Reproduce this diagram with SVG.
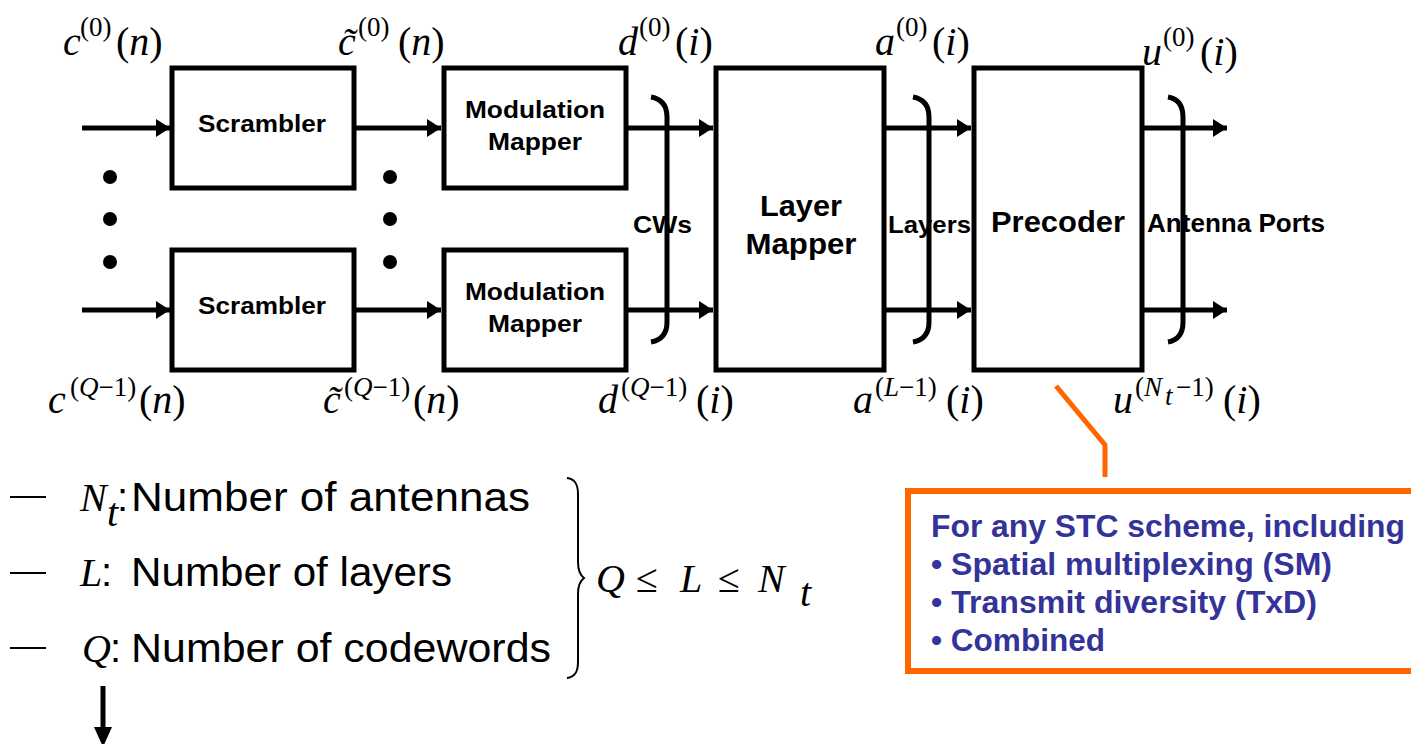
<svg xmlns="http://www.w3.org/2000/svg" width="1411" height="744" viewBox="0 0 1411 744">
<defs>
<style>
.box{fill:#fff;stroke:#000;stroke-width:5}
.ln{stroke:#000;stroke-width:5;fill:none}
.br{stroke:#000;stroke-width:5;fill:none;stroke-linecap:butt}
.lbl{font-family:"Liberation Sans",Arial,sans-serif;font-weight:bold;fill:#000}
.mi{font-family:"Liberation Serif","Times New Roman",serif;font-style:italic;font-size:40px;fill:#000}
.mr{font-family:"Liberation Serif","Times New Roman",serif;font-size:40px;fill:#000}
.si{font-family:"Liberation Serif","Times New Roman",serif;font-style:italic;font-size:27px;fill:#000}
.sr{font-family:"Liberation Serif","Times New Roman",serif;font-size:27px;fill:#000}
.leg{font-family:"Liberation Sans",Arial,sans-serif;font-size:40px;fill:#000}
.org{font-family:"Liberation Sans",Arial,sans-serif;font-weight:bold;font-size:31px;fill:#333399}
</style>
<marker id="ah" markerUnits="userSpaceOnUse" markerWidth="14" markerHeight="18" refX="14" refY="9" orient="auto">
<path d="M0,0 L14,9 L0,18 z" fill="#000"/>
</marker>
</defs>
<rect width="1411" height="744" fill="#fff"/>

<g id="connectors">
<line class="ln" x1="82" y1="128" x2="170" y2="128" marker-end="url(#ah)"/>
<line class="ln" x1="82" y1="310" x2="170" y2="310" marker-end="url(#ah)"/>
<line class="ln" x1="354" y1="128" x2="441" y2="128" marker-end="url(#ah)"/>
<line class="ln" x1="354" y1="310" x2="441" y2="310" marker-end="url(#ah)"/>
<line class="ln" x1="627" y1="128" x2="713" y2="128" marker-end="url(#ah)"/>
<line class="ln" x1="627" y1="310" x2="713" y2="310" marker-end="url(#ah)"/>
<line class="ln" x1="884" y1="128" x2="971" y2="128" marker-end="url(#ah)"/>
<line class="ln" x1="884" y1="310" x2="971" y2="310" marker-end="url(#ah)"/>
<line class="ln" x1="1143" y1="128" x2="1227" y2="128" marker-end="url(#ah)"/>
<line class="ln" x1="1143" y1="310" x2="1227" y2="310" marker-end="url(#ah)"/>
<polyline points="1056,386 1105,445 1105,477" fill="none" stroke="#FF6600" stroke-width="5"/>
<line x1="103" y1="686" x2="103" y2="730" stroke="#000" stroke-width="5"/>
<polygon points="94,727 112,727 103,747" fill="#000"/>
</g>

<g id="dots">
<circle cx="110" cy="177" r="7"/><circle cx="110" cy="219" r="7"/><circle cx="110" cy="262" r="7"/>
<circle cx="390" cy="177" r="7"/><circle cx="390" cy="219" r="7"/><circle cx="390" cy="262" r="7"/>
</g>

<g id="scrambler1"><rect class="box" x="172" y="68" width="182" height="120"/>
<text class="lbl" x="262" y="132" font-size="23" text-anchor="middle" textLength="128" lengthAdjust="spacingAndGlyphs">Scrambler</text></g>
<g id="scrambler2"><rect class="box" x="172" y="250" width="182" height="120"/>
<text class="lbl" x="262" y="314" font-size="23" text-anchor="middle" textLength="128" lengthAdjust="spacingAndGlyphs">Scrambler</text></g>

<g id="modmapper1"><rect class="box" x="444" y="68" width="182" height="120"/>
<text class="lbl" x="535" y="118" font-size="23" text-anchor="middle" textLength="140" lengthAdjust="spacingAndGlyphs">Modulation</text>
<text class="lbl" x="535" y="150" font-size="23" text-anchor="middle" textLength="94" lengthAdjust="spacingAndGlyphs">Mapper</text></g>
<g id="modmapper2"><rect class="box" x="444" y="250" width="182" height="120"/>
<text class="lbl" x="535" y="300" font-size="23" text-anchor="middle" textLength="140" lengthAdjust="spacingAndGlyphs">Modulation</text>
<text class="lbl" x="535" y="332" font-size="23" text-anchor="middle" textLength="94" lengthAdjust="spacingAndGlyphs">Mapper</text></g>

<g id="layermapper"><rect class="box" x="716" y="68" width="168" height="302"/>
<text class="lbl" x="801" y="216" font-size="29" text-anchor="middle" textLength="82" lengthAdjust="spacingAndGlyphs">Layer</text>
<text class="lbl" x="801" y="254" font-size="29" text-anchor="middle" textLength="111" lengthAdjust="spacingAndGlyphs">Mapper</text></g>

<g id="precoder"><rect class="box" x="974" y="68" width="168" height="302"/>
<text class="lbl" x="991" y="232" font-size="30" textLength="134" lengthAdjust="spacingAndGlyphs">Precoder</text></g>

<g id="groups">
<text class="lbl" x="633" y="233" font-size="24" textLength="59" lengthAdjust="spacingAndGlyphs">CWs</text>
<text class="lbl" x="888" y="233" font-size="24" textLength="83" lengthAdjust="spacingAndGlyphs">Layers</text>
<text class="lbl" x="1147" y="232" font-size="25" textLength="178" lengthAdjust="spacingAndGlyphs">Antenna Ports</text>
<path class="br" d="M651,97 C662,99 667,106 667,117 L667,322 C667,333 662,340 651,342"/>
<path class="br" d="M913,97 C924,99 929,106 929,117 L929,322 C929,333 924,340 913,342"/>
<path class="br" d="M1168,97 C1179,99 1183,106 1183,117 L1183,322 C1183,333 1179,340 1168,342"/>
</g>

<g id="signal-labels">
<text class="mi" x="63" y="55">c</text><text class="sr" x="80" y="36">(0)</text><text class="mr" x="116" y="55">(<tspan font-style="italic">n</tspan>)</text>
<text class="mi" x="338" y="55">c̃</text><text class="sr" x="358" y="36">(0)</text><text class="mr" x="398" y="55">(<tspan font-style="italic">n</tspan>)</text>
<text class="mi" x="618" y="55">d</text><text class="sr" x="639" y="36">(0)</text><text class="mr" x="675" y="55">(<tspan font-style="italic">i</tspan>)</text>
<text class="mi" x="875" y="55">a</text><text class="sr" x="896" y="36">(0)</text><text class="mr" x="932" y="55">(<tspan font-style="italic">i</tspan>)</text>
<text class="mi" x="1142" y="65">u</text><text class="sr" x="1163" y="46">(0)</text><text class="mr" x="1200" y="65">(<tspan font-style="italic">i</tspan>)</text>

<text class="mi" x="48" y="413">c</text><text class="sr" x="70" y="396">(<tspan font-style="italic">Q</tspan>−1)</text><text class="mr" x="139" y="413">(<tspan font-style="italic">n</tspan>)</text>
<text class="mi" x="323" y="413">c̃</text><text class="sr" x="344" y="396">(<tspan font-style="italic">Q</tspan>−1)</text><text class="mr" x="413" y="413">(<tspan font-style="italic">n</tspan>)</text>
<text class="mi" x="598" y="413">d</text><text class="sr" x="621" y="396">(<tspan font-style="italic">Q</tspan>−1)</text><text class="mr" x="696" y="413">(<tspan font-style="italic">i</tspan>)</text>
<text class="mi" x="853" y="413">a</text><text class="sr" x="875" y="396">(<tspan font-style="italic">L</tspan>−1)</text><text class="mr" x="946" y="413">(<tspan font-style="italic">i</tspan>)</text>
<text class="mi" x="1113" y="413">u</text><text class="sr" x="1135" y="396">(</text><text class="si" x="1144" y="396">N</text><text class="si" x="1165" y="405" font-size="18">t</text><text class="sr" x="1176" y="396">−1)</text><text class="mr" x="1223" y="413">(<tspan font-style="italic">i</tspan>)</text>
</g>

<g id="legend">
<line x1="10" y1="497" x2="46" y2="497" stroke="#000" stroke-width="1.8"/>
<line x1="10" y1="573" x2="46" y2="573" stroke="#000" stroke-width="1.8"/>
<line x1="10" y1="648" x2="46" y2="648" stroke="#000" stroke-width="1.8"/>
<text class="mi" x="80" y="511" font-size="38">N</text><text class="mi" x="107" y="526" font-size="24">t</text><text class="leg" x="117" y="511">:</text>
<text class="leg" x="131" y="511" textLength="399" lengthAdjust="spacingAndGlyphs">Number of antennas</text>
<text class="mi" x="80" y="586">L</text><text class="leg" x="101" y="586">:</text>
<text class="leg" x="131" y="586" textLength="321" lengthAdjust="spacingAndGlyphs">Number of layers</text>
<text class="mi" x="82" y="662">Q</text><text class="leg" x="110" y="662">:</text>
<text class="leg" x="131" y="662" textLength="420" lengthAdjust="spacingAndGlyphs">Number of codewords</text>
<path d="M567,478 C575,479 578,484 578,494 L578,562 C578,570 580,575 584,578 C580,581 578,586 578,594 L578,662 C578,672 575,677 567,678" fill="none" stroke="#000" stroke-width="2"/>
<text class="mi" x="596" y="592" font-size="44">Q</text>
<text class="mr" x="636" y="592" font-size="48">≤</text>
<text class="mi" x="680" y="592" font-size="44">L</text>
<text class="mr" x="718" y="592" font-size="48">≤</text>
<text class="mi" x="758" y="592" font-size="44">N</text>
<text class="mi" x="800" y="606" font-size="28">t</text>
</g>

<g id="stc-note">
<rect x="908" y="491" width="600" height="180" fill="#fff" stroke="#FF6600" stroke-width="6"/>
<text class="org" x="931" y="537" textLength="474" lengthAdjust="spacingAndGlyphs">For any STC scheme, including</text>
<text class="org" x="931" y="575" textLength="401" lengthAdjust="spacingAndGlyphs">• Spatial multiplexing (SM)</text>
<text class="org" x="931" y="613" textLength="386" lengthAdjust="spacingAndGlyphs">• Transmit diversity (TxD)</text>
<text class="org" x="931" y="651" textLength="174" lengthAdjust="spacingAndGlyphs">• Combined</text>
</g>
</svg>
